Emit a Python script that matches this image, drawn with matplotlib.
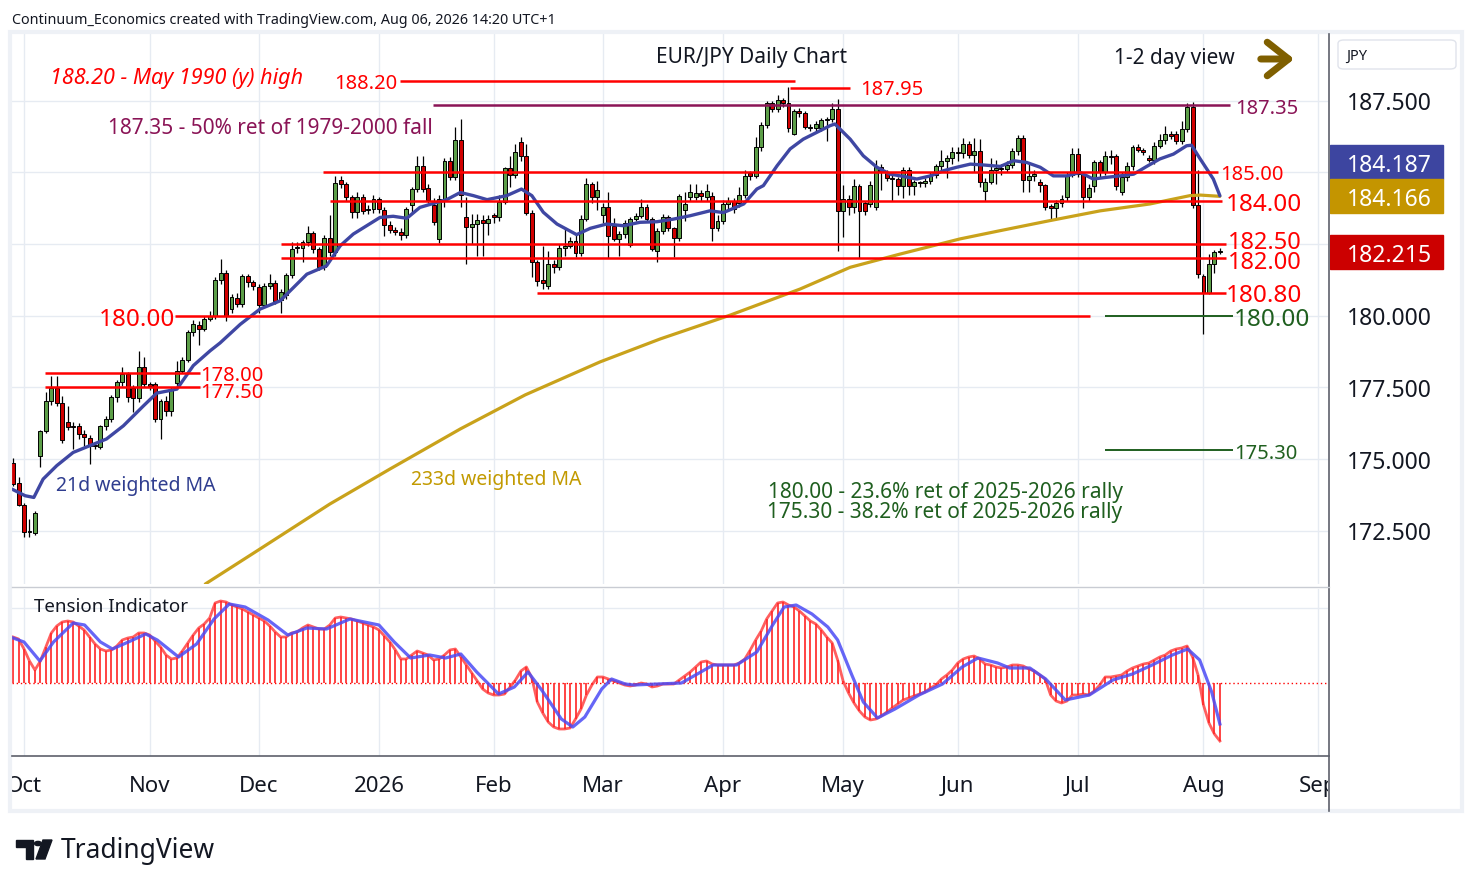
import numpy as np
import matplotlib
matplotlib.use('Agg')
import matplotlib.pyplot as plt
from matplotlib.patches import Rectangle, FancyBboxPatch, Polygon, Circle
from matplotlib.lines import Line2D

# ---- data (bar index 0 = 1 Oct 2025, first two bars are 29/30 Sep) ----
opens = [
    174.86, 174.15, 173.41, 172.44, 172.42, 175.12, 175.97, 177.01, 177.48, 176.96,
    176.28, 176.14, 176.17, 175.88, 175.75, 175.47, 175.41, 176.17, 176.39, 177.18,
    177.68, 177.97, 177.48, 177.12, 178.20, 177.61, 177.61, 176.39, 177.04, 176.66,
    177.64, 178.08, 178.47, 179.42, 179.69, 179.54, 179.89, 180.00, 181.25, 181.48,
    180.23, 180.63, 180.41, 181.37, 181.16, 181.02, 180.38, 181.05, 181.14, 180.55,
    180.74, 181.42, 182.35, 182.35, 182.56, 182.87, 182.33, 181.69, 182.70, 182.21,
    184.73, 184.59, 184.13, 183.61, 184.16, 183.72, 183.72, 184.09, 183.69, 183.17,
    183.00, 182.93, 182.81, 183.87, 184.42, 185.21, 184.44, 183.87, 182.67, 184.07,
    185.41, 184.85, 186.13, 183.43, 183.08, 183.20, 183.34, 183.23, 183.51, 183.43,
    183.98, 185.14, 184.91, 186.05, 185.58, 183.60, 181.86, 181.24, 181.05, 181.80,
    181.69, 182.35, 182.44, 182.62, 182.18, 183.39, 184.59, 184.13, 183.52, 183.81,
    183.12, 182.68, 182.84, 182.48, 183.39, 183.48, 183.81, 183.39, 182.27, 182.94,
    183.43, 183.05, 182.70, 183.70, 184.16, 184.16, 184.27, 184.13, 184.19, 183.05,
    183.31, 183.90, 184.01, 183.95, 184.21, 184.97, 184.86, 185.87, 186.66, 187.42,
    187.23, 187.54, 187.42, 186.34, 187.13, 187.07, 186.60, 186.54, 186.54, 186.83,
    186.86, 187.21, 183.66, 184.07, 183.78, 184.54, 183.93, 183.90, 183.78, 185.20,
    185.00, 184.79, 184.77, 184.51, 185.09, 184.54, 184.65, 184.62, 184.71, 184.92,
    185.23, 185.41, 185.49, 185.72, 185.67, 185.98, 185.61, 185.76, 184.36, 184.68,
    185.09, 185.14, 185.12, 185.26, 185.76, 186.19, 184.73, 184.86, 184.65, 184.56,
    183.84, 183.75, 183.93, 184.16, 184.92, 185.63, 184.94, 184.13, 184.51, 185.37,
    185.00, 185.56, 185.56, 184.30, 184.83, 185.23, 185.87, 185.79, 185.52, 185.43,
    185.93, 186.13, 186.34, 186.34, 186.11, 186.51, 187.30, 183.86, 181.37, 180.81,
    181.79, 182.21]
closes = [
    174.13, 173.41, 172.44, 172.49, 173.12, 175.97, 177.01, 177.48, 176.96, 175.65,
    176.11, 176.11, 175.88, 175.76, 175.47, 175.45, 176.17, 176.39, 177.18, 177.68,
    177.97, 177.17, 177.12, 178.20, 177.61, 177.55, 176.39, 177.04, 176.66, 177.41,
    178.08, 178.47, 179.42, 179.71, 179.54, 179.89, 180.00, 181.25, 181.48, 180.00,
    180.64, 180.41, 181.37, 181.16, 181.05, 180.38, 181.05, 181.14, 180.52, 180.84,
    181.42, 182.33, 182.37, 182.56, 182.87, 182.33, 181.69, 182.70, 182.21, 184.63,
    184.59, 184.13, 183.61, 184.16, 183.66, 183.70, 184.09, 183.72, 183.17, 183.00,
    182.93, 182.81, 183.72, 184.42, 185.21, 184.42, 184.05, 183.28, 184.07, 185.41,
    184.85, 186.13, 184.21, 183.08, 183.20, 183.34, 183.23, 183.37, 183.43, 183.98,
    185.14, 184.91, 185.70, 185.58, 183.60, 181.86, 181.22, 181.13, 181.80, 181.69,
    182.35, 182.44, 182.62, 182.18, 183.39, 184.59, 184.13, 184.40, 183.81, 182.79,
    182.68, 182.84, 183.22, 183.39, 183.48, 183.81, 183.39, 182.33, 182.94, 183.43,
    183.05, 182.70, 184.19, 183.90, 184.32, 184.27, 184.19, 184.36, 183.05, 183.31,
    183.90, 184.01, 183.74, 184.21, 184.86, 184.86, 185.87, 186.66, 187.42, 187.23,
    187.54, 187.42, 186.54, 187.13, 187.07, 186.60, 186.54, 186.69, 186.83, 186.86,
    187.21, 183.66, 184.07, 183.78, 184.54, 183.64, 183.64, 184.57, 185.20, 185.00,
    184.79, 184.77, 184.51, 185.09, 184.54, 184.65, 184.63, 184.71, 184.92, 185.23,
    185.41, 185.49, 185.70, 185.67, 185.98, 185.61, 185.76, 184.68, 184.68, 185.09,
    185.14, 185.12, 185.26, 185.76, 186.19, 184.73, 184.86, 184.94, 184.56, 183.80,
    183.75, 183.93, 184.07, 184.92, 185.63, 184.94, 184.13, 184.44, 185.37, 185.00,
    185.56, 185.54, 184.51, 184.83, 185.23, 185.87, 185.79, 185.72, 185.43, 185.93,
    186.13, 186.34, 186.26, 186.11, 186.51, 187.30, 183.86, 181.45, 180.81, 181.79,
    182.21, 182.215]
highs = [
    175.05, 174.36, 173.45, 172.91, 173.20, 176.00, 177.33, 177.91, 177.91, 177.20,
    176.86, 176.30, 176.25, 176.00, 175.85, 175.60, 176.20, 176.50, 177.25, 177.75,
    178.20, 178.05, 177.60, 178.78, 178.55, 177.70, 177.70, 177.10, 177.20, 177.50,
    178.43, 178.55, 179.50, 179.85, 179.80, 180.00, 180.15, 181.35, 181.98, 181.60,
    180.75, 180.80, 181.45, 181.45, 181.25, 181.10, 181.15, 181.45, 181.25, 180.95,
    181.50, 182.58, 182.58, 182.65, 183.14, 182.95, 182.40, 182.80, 183.50, 184.88,
    184.88, 184.65, 184.20, 184.30, 184.25, 183.85, 184.20, 184.15, 183.80, 183.30,
    183.10, 183.05, 183.80, 184.50, 185.58, 185.58, 184.60, 184.10, 184.20, 185.50,
    185.55, 186.60, 186.86, 184.13, 183.55, 183.55, 183.50, 183.50, 183.60, 184.20,
    185.20, 185.58, 186.00, 186.22, 186.00, 183.70, 181.95, 182.45, 182.25, 181.95,
    182.50, 183.10, 182.75, 182.80, 183.50, 184.79, 184.65, 184.70, 183.95, 184.30,
    183.40, 182.95, 183.35, 183.45, 183.60, 184.07, 183.90, 183.45, 183.05, 183.55,
    183.50, 183.10, 184.25, 184.30, 184.60, 184.60, 184.40, 184.60, 184.30, 183.50,
    184.05, 184.15, 184.10, 184.50, 185.10, 185.05, 186.22, 186.75, 187.50, 187.50,
    187.71, 187.60, 187.97, 187.20, 187.25, 187.15, 186.70, 186.80, 186.90, 186.95,
    187.42, 187.56, 184.56, 184.20, 184.77, 184.60, 184.00, 184.70, 185.45, 185.30,
    185.10, 185.00, 184.85, 185.20, 185.20, 184.75, 184.70, 184.80, 185.00, 185.30,
    185.80, 185.60, 185.90, 185.90, 186.20, 186.10, 186.20, 186.16, 184.80, 185.50,
    185.45, 185.30, 185.40, 185.85, 186.30, 186.30, 185.35, 185.10, 184.77, 184.60,
    183.90, 184.05, 184.20, 185.00, 185.84, 185.84, 185.00, 184.60, 185.45, 185.45,
    185.75, 185.80, 185.65, 185.00, 185.35, 185.95, 186.00, 185.85, 185.60, 186.05,
    186.35, 186.63, 186.45, 186.45, 186.80, 187.42, 187.45, 185.10, 181.45, 182.15,
    182.30, 182.35]
lows = [
    174.05, 173.35, 172.27, 172.27, 172.35, 174.71, 175.90, 176.90, 176.85, 175.55,
    176.00, 175.35, 175.70, 175.45, 174.82, 175.35, 175.35, 176.00, 176.30, 177.00,
    177.55, 177.00, 176.63, 177.00, 177.50, 177.40, 176.30, 175.70, 176.50, 176.50,
    177.50, 178.00, 178.40, 179.30, 178.98, 179.45, 179.80, 179.90, 181.10, 179.80,
    180.10, 180.30, 180.30, 181.00, 180.90, 180.10, 180.30, 180.95, 180.40, 180.09,
    180.60, 181.30, 182.20, 181.86, 182.45, 182.20, 181.60, 181.60, 182.10, 182.10,
    184.45, 184.00, 183.40, 183.40, 183.55, 183.55, 183.60, 183.60, 182.79, 182.90,
    182.80, 182.64, 182.70, 183.60, 184.30, 184.30, 183.95, 183.15, 182.55, 183.80,
    184.75, 184.75, 183.80, 181.80, 182.50, 182.10, 182.10, 182.80, 183.25, 183.30,
    183.90, 184.50, 184.80, 185.40, 183.50, 181.34, 181.05, 180.95, 180.93, 181.50,
    181.60, 182.10, 182.35, 182.05, 182.10, 183.30, 183.95, 183.70, 183.25, 182.00,
    182.60, 182.10, 182.70, 182.40, 183.30, 183.40, 183.30, 182.27, 181.86, 182.85,
    182.95, 182.04, 182.60, 183.30, 184.00, 184.05, 184.00, 184.00, 182.60, 182.95,
    183.20, 183.65, 183.60, 183.80, 184.10, 184.75, 184.80, 185.75, 186.55, 187.10,
    187.10, 187.30, 186.40, 186.30, 186.95, 186.50, 186.45, 186.45, 186.45, 186.10,
    186.75, 182.27, 182.73, 183.50, 183.60, 182.00, 183.50, 183.80, 183.70, 184.40,
    184.70, 184.00, 184.20, 184.10, 184.20, 184.20, 184.50, 184.50, 184.60, 184.80,
    185.10, 184.80, 185.30, 185.40, 185.50, 185.50, 185.00, 184.50, 184.00, 184.60,
    184.60, 184.90, 185.00, 185.15, 185.60, 184.30, 184.30, 184.70, 184.30, 183.70,
    183.37, 183.40, 183.80, 184.00, 184.85, 184.85, 183.75, 184.00, 184.30, 184.80,
    184.90, 185.30, 184.40, 184.20, 184.70, 185.10, 185.70, 185.60, 185.35, 185.30,
    185.85, 186.00, 186.15, 186.00, 186.00, 186.40, 183.75, 181.30, 179.36, 180.75,
    181.50, 182.15]

# tension indicator histogram, one value per bar
tension = [
    46, 44, 34, 22, 13, 22, 36, 50, 57, 61,
    62, 61, 57, 53, 46, 39, 34, 32, 33, 37,
    43, 45, 46, 50, 50, 48, 42, 36, 28, 24,
    25, 32, 40, 48, 55, 59, 65, 80, 82, 81,
    78, 76, 74, 71, 68, 65, 62, 57, 51, 46,
    46, 50, 51, 55, 58, 56, 54, 54, 58, 65,
    66, 65, 64, 62, 60, 58, 56, 53, 47, 41,
    33, 24, 24, 28, 32, 30, 28, 23, 24, 28,
    33, 34, 26, 18, 10, 2, -6, -10, -12, -12,
    -11, -4, 3, 12, 16, 5, -19, -30, -39, -44,
    -46, -46, -45, -36, -26, -12, -2, 6, 6, 4,
    2, 0, -2, -3, -2, 0, -1, -4, -3, -1,
    -1, -1, 3, 7, 11, 16, 21, 22, 19, 18,
    18, 18, 18, 20, 24, 33, 43, 52, 64, 72,
    80, 81, 78, 76, 72, 67, 62, 59, 53, 46,
    40, 23, 2, -10, -20, -28, -34, -37, -36, -33,
    -29, -25, -21, -17, -15, -13, -11, -9, -5, -2,
    4, 8, 13, 20, 24, 26, 27, 24, 19, 18,
    16, 15, 16, 18, 18, 17, 14, 12, 8, 4,
    -12, -18, -20, -18, -12, -12, -11, -12, -8, -2,
    6, 6, 7, 8, 12, 15, 17, 19, 20, 23,
    26, 28, 32, 34, 35, 37, 26, 8, -22, -40,
    -51, -58]

# signal line of the tension indicator (bar index, value)
sig_x = [-2, 0, 2.9, 5.4, 9, 11.1, 14, 16.2, 19.1, 22.3, 24.4, 28.3, 31.6, 34.8, 37.6,
         40.5, 44.7, 48.3, 51.8, 55.4, 59.7, 65, 67.8, 70.8, 74.3, 77.2, 80, 82.9, 86.9,
         89.8, 92.3, 94.8, 98.4, 100.5, 102.7, 105.8, 107.6, 110.1, 111.7, 116, 120.4,
         123.3, 126.2, 130.5, 134.2, 137.1, 139.2, 141.4, 144.3, 147.2, 149, 151.6, 153.7,
         156.3, 159.5, 163.9, 168.2, 171.8, 174.7, 178.3, 180.5, 184.2, 187.1, 190.7,
         195.1, 199.4, 203, 206.6, 210.3, 213.1, 215.3, 217.5, 219]
sig_v = [45, 41, 22, 41, 60, 58, 41, 34, 41, 49, 43, 26, 39, 64, 79,
         76, 63, 48, 55, 54, 64, 58, 41, 25, 28, 25, 29, 11, -11,
         -4, 11, -7, -36, -44, -34, -6, 4, -1, -2, -1, 0,
         9, 18, 18, 31, 58, 76, 78, 69, 56, 43, 8, -19,
         -35, -26, -12, -1, 16, 25, 20, 15, 15, 4, -17,
         -12, 3, 9, 18, 28, 34, 23, -9, -41]

# 21d weighted MA (bar index, price)
ma21_x = [-2.2, 0.2, 1.8, 3.5, 6, 9, 12.1, 15.1, 18.2, 21.9, 24.3, 28, 31, 34.1, 35.9,
          39.6, 43.2, 46.9, 51.8, 55.4, 57.9, 60.3, 65.2, 67.6, 70.1, 72.5, 75, 77.4,
          79.9, 82.3, 84.8, 88.4, 91.1, 93, 95.1, 97.6, 101.2, 103.7, 106.7, 109.8,
          112.8, 115.9, 118.9, 122, 125.6, 128.1, 131.8, 134.2, 135.4, 137.9, 140.3,
          142.7, 145.2, 147.6, 148.5, 151.3, 153.7, 156.2, 158.6, 161.1, 163.5, 166,
          168.4, 170.8, 173.3, 175.7, 178.8, 181.2, 183.6, 186.1, 188.5, 191, 193.4,
          195.8, 198.3, 200.7, 203.2, 205.6, 208, 210.5, 212.9, 213.8, 215.4, 217.8, 219]
ma21_v = [173.95, 173.72, 173.66, 174.3, 174.77, 175.23, 175.47, 175.7, 176.16, 176.86,
          177.3, 177.44, 178.26, 178.78, 179.05, 179.7, 180.23, 180.52, 181.45, 181.74,
          182.44, 182.85, 183.43, 183.47, 183.4, 183.78, 183.92, 184.05, 184.3, 184.19,
          184.05, 184.19, 184.42, 184.19, 183.61, 183.2, 182.83, 183.05, 183.2, 183.14,
          183.26, 183.28, 183.37, 183.49, 183.66, 183.6, 183.9, 184.42, 184.54, 185.23,
          185.82, 186.16, 186.4, 186.63, 186.69, 186.16, 185.58, 185.18, 184.94, 184.86,
          184.77, 184.88, 185.06, 185.18, 185.29, 185.26, 185.21, 185.41, 185.35, 185.18,
          184.88, 184.88, 185.0, 184.77, 184.83, 184.88, 184.94, 185.21, 185.47, 185.64,
          185.93, 185.95, 185.47, 184.77, 184.187]

# 233d weighted MA (bar index, price)
ma233_x = [33.2, 43.2, 56, 67, 79.9, 91.8, 105.5, 116.5, 129.3, 142.1, 151.3, 160.4,
           171.4, 178.8, 187.9, 197.1, 206.2, 213.5, 215.4, 219]
ma233_v = [170.64, 171.86, 173.43, 174.65, 176.05, 177.24, 178.39, 179.19, 180.02, 180.93,
           181.69, 182.15, 182.68, 182.97, 183.32, 183.66, 183.9, 184.19, 184.21, 184.166]

month_names = ['Oct', 'Nov', 'Dec', '2026', 'Feb', 'Mar', 'Apr', 'May', 'Jun', 'Jul', 'Aug', 'Sep']
month_start = [0, 23, 43, 65, 86, 106, 128, 150, 171, 193, 216, 237]
price_ticks = [172.5, 175.0, 177.5, 180.0, 182.5, 187.5]
last_ma21, last_ma233, last_close = 184.187, 184.166, 182.215

# ---- figure ----
plt.rcParams['font.family'] = ['Noto Sans', 'DejaVu Sans']
W, H = 1474, 887
fig = plt.figure(figsize=(W / 100, H / 100), dpi=100)

def fx(x):
    return x / W

def fy(y):
    return 1 - y / H

def px_axes(x0, y0, x1, y1):
    a = fig.add_axes([fx(x0), fy(y1), (x1 - x0) / W, (y1 - y0) / H])
    a.set_axis_off()
    return a

def ftext(x, y, s, **kw):
    kw.setdefault('va', 'center')
    # small downward nudge: matplotlib centres on the full box incl. descent
    fig.text(fx(x), fy(y + 2.5), s, **kw)

def fline(x0, y0, x1, y1, **kw):
    fig.add_artist(Line2D([fx(x0), fx(x1)], [fy(y0), fy(y1)], transform=fig.transFigure, **kw))

def bar_of(px):
    # pixel column -> bar index
    return (px - 24) / 5.46

ymin, ymax = 170.64, 189.83
xmin, xmax = -2.2, 238.8

ax = px_axes(12, 35, 1328, 585)
axi = px_axes(12, 590, 1328, 757)
axd = px_axes(12, 757, 1328, 810)
axr = px_axes(1330, 35, 1460, 585)
for a in (ax, axi, axd):
    a.set_xlim(xmin, xmax)
ax.set_ylim(ymin, ymax)
axr.set_ylim(ymin, ymax)
axr.set_xlim(0, 130)
axi.set_ylim(-73, 94)
axd.set_ylim(0, 1)
ppu = 550 / (ymax - ymin)

grid = '#e6ebf2'
for p in price_ticks + [185.0]:
    ax.axhline(p, color=grid, lw=1, zorder=0)
axi.axhline(75, color=grid, lw=1, zorder=0)
for m in month_start:
    ax.axvline(m, color=grid, lw=1, zorder=0)
    axi.axvline(m, color=grid, lw=1, zorder=0)

# candles
o = np.array(opens)
c = np.array(closes)
hi = np.array(highs)
lo = np.array(lows)
x = np.arange(len(c)) - 2
up = c >= o
cols = np.where(up, '#5c9e48', '#d00000')
ax.vlines(x, lo, hi, color='black', lw=0.9, zorder=3)
ax.bar(x, np.maximum(np.abs(c - o), 0.04), bottom=np.minimum(o, c), width=0.72,
       color=cols, edgecolor='black', linewidth=0.7, zorder=4)

# moving averages
ax.plot(ma233_x, ma233_v, color='#c9a21b', lw=2.3, zorder=5, solid_capstyle='round')
ax.plot(ma21_x, ma21_v, color='#3f47a3', lw=2.4, zorder=5, solid_capstyle='round')

# support / resistance lines: (level, x0 px, x1 px, colour, width)
red, purple, green = '#ff0000', '#8a1456', '#1f5f1f'
level_lines = [
    (188.20, 400, 795, red, 1.8), (187.95, 790, 850, red, 1.8),
    (187.35, 433, 1230, purple, 1.8), (185.00, 323, 1218, red, 1.8),
    (184.00, 330, 1222, red, 1.8), (182.50, 281, 1226, red, 1.8),
    (182.00, 281, 1226, red, 1.8), (180.80, 537, 1226, red, 1.8),
    (180.00, 175, 1090, red, 1.8), (180.00, 1105, 1233, green, 1.4),
    (178.00, 45, 200, red, 1.8), (177.50, 45, 200, red, 1.8),
    (175.30, 1105, 1233, green, 1.4)]
for lv, x0, x1, col, lw in level_lines:
    ax.hlines(lv, bar_of(x0), bar_of(x1), color=col, lw=lw, zorder=6)

def py(p):
    return 101.7 + (187.5 - p) * 28.67

ftext(1235, py(187.35), '187.35', color=purple, fontsize=14.5)
ftext(1220, py(185.00) - 1, '185.00', color=red, fontsize=14.5)
ftext(1226, py(184.00), '184.00', color=red, fontsize=17.5)
ftext(1228, py(182.50) - 4.5, '182.50', color=red, fontsize=17)
ftext(1228, py(182.00) + 1.5, '182.00', color=red, fontsize=17)
ftext(1226, py(180.80), '180.80', color=red, fontsize=17.5)
ftext(1234, py(180.00) + 1, '180.00', color=green, fontsize=17.5)
ftext(1234, py(175.30), '175.30', color=green, fontsize=14.5)
ftext(175, py(180.00) + 1, '180.00', color=red, fontsize=17.5, ha='right')
ftext(200, py(178.00) - 1, '178.00', color=red, fontsize=14.5)
ftext(200, py(177.50) + 2, '177.50', color=red, fontsize=14.5)
ftext(397, py(188.20), '188.20', color=red, fontsize=14.5, ha='right')
ftext(860, py(187.95) - 1, '187.95', color=red, fontsize=14.5)

ftext(50, 76, '188.20 - May 1990 (y) high', color=red, fontsize=15.5, style='italic')
ftext(108, 126, '187.35 - 50% ret of 1979-2000 fall', color=purple, fontsize=15)
ftext(752, 55, 'EUR/JPY Daily Chart', color='#131722', fontsize=15, ha='center',
      fontweight='medium')
ftext(1174, 56, '1-2 day view', color='#131722', fontsize=15, ha='center', fontweight='medium')
ftext(56, 484, '21d weighted MA', color='#2f3d8f', fontsize=14)
ftext(411, 477, '233d weighted MA', color='#c29a00', fontsize=14)
ftext(945, 490, '180.00 - 23.6% ret of 2025-2026 rally', color=green, fontsize=15, ha='center')
ftext(945, 510, '175.30 - 38.2% ret of 2025-2026 rally', color=green, fontsize=15, ha='center')
ftext(12, 18, 'Continuum_Economics created with TradingView.com, Aug 06, 2026 14:20 UTC+1',
      color='#131722', fontsize=10.3)

fig.add_artist(matplotlib.patches.FancyArrowPatch(
    (fx(1258), fy(60)), (fx(1297), fy(60)), transform=fig.transFigure,
    arrowstyle='->,head_length=0.7,head_width=0.55', mutation_scale=22,
    color='#7f5f00', lw=5, capstyle='round', joinstyle='round'))

# tension indicator
t = np.array(tension)
axi.vlines(x, 0, t, color='#ff3030', lw=1.4, alpha=0.9, zorder=2)
axi.plot(x, t, color='#ff2a2a', lw=2, alpha=0.75, zorder=3)
axi.plot(sig_x, sig_v, color='#4b4bf5', lw=2.3, alpha=0.85, zorder=4)
axi.axhline(0, color='#ff0000', lw=1, ls=(0, (1, 2)), zorder=1)
ftext(34, 604, 'Tension Indicator', color='#131722', fontsize=13.5, fontweight='medium')

# date axis
for name, m in zip(month_names, month_start):
    axd.text(m, 0.45, name, ha='center', va='center', fontsize=16, color='#131722',
             fontweight='bold' if name == '2026' else 'normal', clip_on=True)

# price scale (185.000 sits fully under the value boxes, as in the original)
nudge = 2.5 / ppu
for p in price_ticks:
    axr.text(17, p - nudge, '%.3f' % p, va='center', ha='left', fontsize=16.5, color='#131722')
bh = 34 / ppu
boxes = [(last_ma233 + bh, last_ma21, '#3d45a0'),
         (last_ma233, last_ma233, '#c49500'),
         (last_close, last_close, '#cc0000')]
for yc, val, col in boxes:
    axr.add_patch(Rectangle((0, yc - bh / 2), 113, bh, color=col, zorder=5))
    axr.text(17, yc - nudge, '%.3f' % val, va='center', ha='left', fontsize=16.5,
             color='white', zorder=6)

fig.add_artist(FancyBboxPatch((fx(1338), fy(70)), 118 / W, 29 / H,
                              boxstyle='round,pad=0,rounding_size=0.004',
                              transform=fig.transFigure, facecolor='white',
                              edgecolor='#e0e3eb', lw=1))
ftext(1346, 54, 'JPY', color='#131722', fontsize=10.5)

# frame and separators
fig.add_artist(Rectangle((fx(10), fy(812)), 1452 / W, 779 / H, transform=fig.transFigure,
                         fill=False, edgecolor='#eef1f6', lw=3))
fline(1329, 35, 1329, 812, color='#5d606b', lw=1.2)
fline(12, 757, 1329, 757, color='#5d606b', lw=1.2)
fline(12, 587.5, 1329, 587.5, color='#c9ccd3', lw=1)

# TradingView logo
logo = '#131722'
fig.add_artist(Polygon([(fx(16), fy(841)), (fx(33), fy(841)), (fx(33), fy(860)),
                        (fx(26), fy(860)), (fx(26), fy(848)), (fx(16), fy(848))],
                       closed=True, transform=fig.transFigure, color=logo))
fig.add_artist(Circle((fx(38), fy(844.5)), 3.5 / W, transform=fig.transFigure, color=logo))
fig.add_artist(Polygon([(fx(43), fy(841)), (fx(52), fy(841)), (fx(45), fy(860)),
                        (fx(36), fy(860))], closed=True, transform=fig.transFigure, color=logo))
ftext(61, 849, 'TradingView', color=logo, fontsize=19, fontweight='bold')

fig.savefig('out.png', dpi=100, facecolor='white')
